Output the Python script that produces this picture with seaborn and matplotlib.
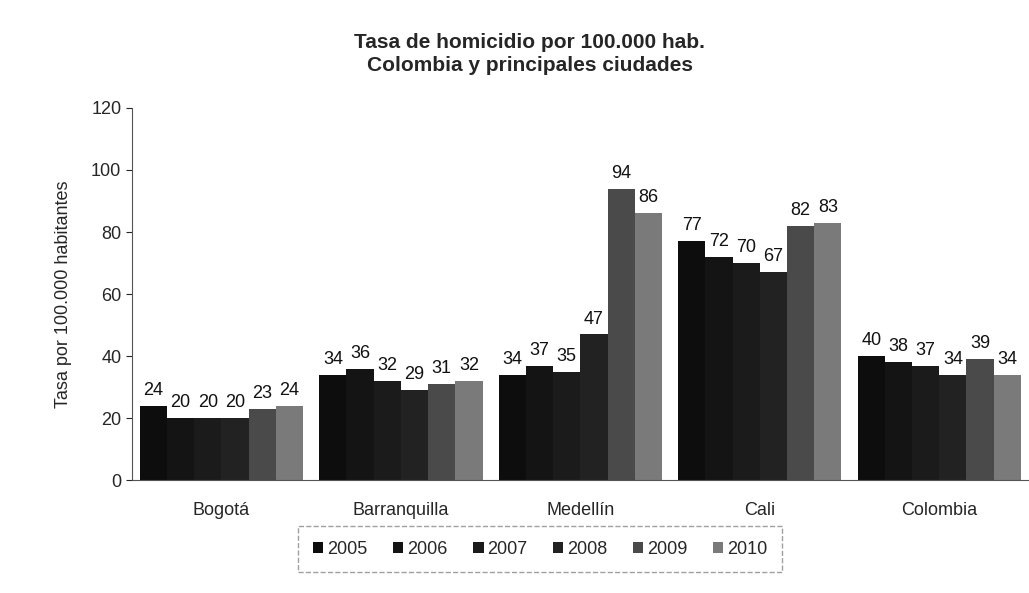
import seaborn as sns
import matplotlib.pyplot as plt
import pandas as pd

# Homicide rate per 100,000 inhabitants
cities = ["Bogotá", "Barranquilla", "Medellín", "Cali", "Colombia"]
years = ["2005", "2006", "2007", "2008", "2009", "2010"]
rate_2005 = [24, 34, 34, 77, 40]
rate_2006 = [20, 36, 37, 72, 38]
rate_2007 = [20, 32, 35, 70, 37]
rate_2008 = [20, 29, 47, 67, 34]
rate_2009 = [23, 31, 94, 82, 39]
rate_2010 = [24, 32, 86, 83, 34]

series = [rate_2005, rate_2006, rate_2007, rate_2008, rate_2009, rate_2010]
rows = []
for y, vals in zip(years, series):
    for c, v in zip(cities, vals):
        rows.append({"Ciudad": c, "Año": y, "Tasa": v})
df = pd.DataFrame(rows)

sns.set_style("white")
plt.rcParams["font.family"] = ["Liberation Sans", "DejaVu Sans"]

# scanned greyscale look
palette = ["#0d0d0d", "#141414", "#1b1b1b", "#222222", "#4a4a4a", "#7a7a7a"]

fig = plt.figure(figsize=(10.29, 5.93), dpi=100)
ax = fig.add_axes([0.128, 0.19, 0.872, 0.628])
sns.barplot(data=df, x="Ciudad", y="Tasa", hue="Año", palette=palette,
            width=0.91, gap=0, saturation=1, linewidth=0, ax=ax, legend=True)

for cont in ax.containers:
    ax.bar_label(cont, fontsize=13, padding=5, color="#111111")

ax.set_ylim(0, 120)
ax.set_yticks(range(0, 121, 20))
ax.set_xlim(-0.5, 4.5)
ax.set_xlabel("")
ax.set_ylabel("Tasa por 100.000 habitantes", fontsize=13, labelpad=14)
ax.tick_params(axis="y", labelsize=13, left=True, length=4, width=0.8)
ax.tick_params(axis="x", labelsize=13, bottom=False, pad=12)
for side in ["top", "right"]:
    ax.spines[side].set_visible(False)
ax.spines["left"].set_color("#555555")
ax.spines["bottom"].set_color("#555555")

fig.suptitle("Tasa de homicidio por 100.000 hab.\nColombia y principales ciudades",
             x=0.515, y=0.945, fontsize=15, fontweight="bold", linespacing=1.3)

leg = ax.legend(loc="center", bbox_to_anchor=(0.455, -0.185), ncol=6, fontsize=13,
                frameon=True, handlelength=0.6, handleheight=0.6, handletextpad=0.2,
                columnspacing=1.4, borderpad=0.5)
leg.get_frame().set_edgecolor("#888888")
leg.get_frame().set_linestyle("--")
leg.get_frame().set_boxstyle("square")

plt.savefig("out.png", dpi=100)
